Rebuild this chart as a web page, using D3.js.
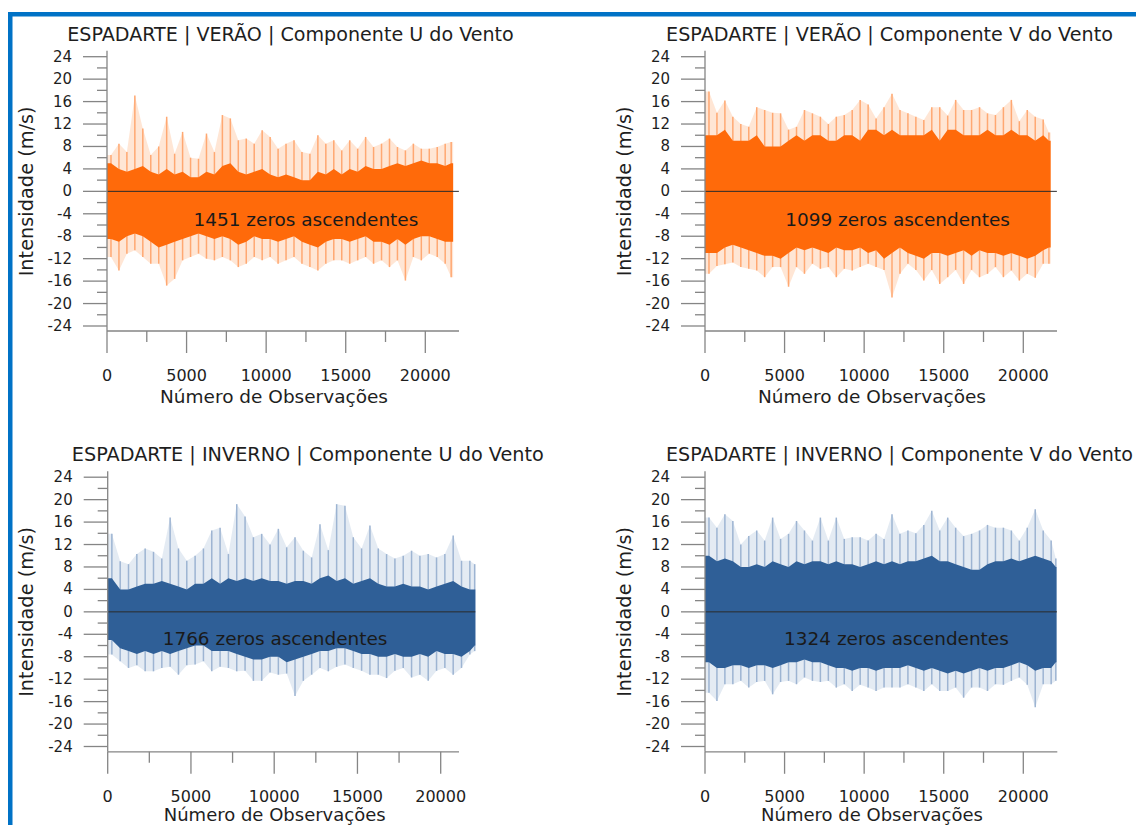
<!DOCTYPE html>
<html>
<head>
<meta charset="utf-8">
<script src="https://cdn.jsdelivr.net/npm/d3@7"></script>
<style>
  html, body { margin: 0; padding: 0; background: #ffffff; }
  svg { display: block; font-family: "DejaVu Sans", Verdana, sans-serif; }
</style>
</head>
<body>
<svg id="chart" width="1136" height="825"></svg>
<script>
// Wind components at Espadarte, summarised in blocks of 500 observations:
// hi / lo = extreme values in each block, top / bot = limits of the dense band.
const binSize = 500;

// VERÃO – componente U
const verUHi  = [6.5, 8.5, 7.0, 17.1, 11.2, 6.5, 8.0, 13.3, 6.7, 10.6,
                 6.0, 5.8, 10.3, 7.0, 13.6, 13.0, 9.1, 9.4, 8.5, 10.9,
                 9.7, 7.6, 8.5, 9.1, 7.0, 6.7, 10.0, 8.5, 9.1, 7.3,
                 9.1, 7.6, 9.7, 7.9, 8.5, 9.4, 7.9, 7.3, 8.5, 7.6,
                 7.6, 7.9, 8.5, 8.8];
const verUTop = [5.0, 4.0, 3.5, 4.0, 4.5, 3.5, 3.0, 4.0, 3.0, 3.5,
                 2.5, 2.5, 3.5, 3.0, 4.5, 5.0, 3.5, 3.0, 3.5, 4.0,
                 3.0, 2.5, 3.0, 2.5, 2.0, 2.0, 3.5, 3.0, 4.0, 3.0,
                 4.0, 3.5, 4.5, 4.0, 4.0, 4.5, 5.0, 4.5, 5.0, 5.5,
                 5.0, 5.0, 4.5, 5.0];
const verUBot = [-8.5, -9.0, -8.0, -7.5, -8.0, -9.0, -10.0, -9.5, -9.0, -8.5,
                 -8.0, -7.5, -8.0, -8.5, -8.0, -8.5, -9.5, -9.0, -8.0, -8.5,
                 -8.5, -9.0, -8.5, -8.0, -9.0, -9.5, -10.0, -9.0, -8.5, -8.5,
                 -9.0, -8.5, -8.0, -9.0, -9.0, -9.5, -8.5, -9.5, -8.5, -8.0,
                 -8.0, -8.5, -9.0, -9.0];
const verULo  = [-11.7, -14.1, -11.1, -10.5, -11.7, -12.9, -12.9, -16.8, -15.6, -12.3,
                 -11.7, -11.1, -12.0, -12.3, -11.7, -12.3, -13.5, -12.9, -11.7, -12.3,
                 -11.7, -12.9, -12.3, -11.7, -12.9, -13.5, -14.1, -12.9, -12.3, -12.3,
                 -12.9, -12.3, -11.7, -12.9, -12.3, -13.5, -12.3, -15.9, -11.7, -12.3,
                 -11.1, -11.7, -12.9, -15.3];

// VERÃO – componente V
const verVHi  = [17.8, 14.0, 16.2, 13.3, 12.0, 11.5, 15.0, 14.5, 14.0, 13.9,
                 11.0, 11.5, 14.5, 13.9, 13.3, 12.0, 13.3, 13.6, 14.5, 16.3,
                 15.5, 13.0, 15.0, 17.4, 14.5, 13.9, 13.3, 12.7, 15.0, 15.0,
                 13.5, 16.3, 14.5, 14.5, 15.0, 13.9, 13.6, 15.0, 16.3, 12.5,
                 14.5, 13.3, 12.8, 10.5];
const verVTop = [10, 10, 11, 9, 9, 9, 10, 8, 8, 8,
                 9, 10, 9, 10, 10, 9, 9, 10, 10, 9,
                 11, 11, 10, 11, 10, 10, 10, 10, 11, 9,
                 11, 11, 10, 10, 10, 11, 10, 10, 11, 10,
                 10, 9, 10, 9];
const verVBot = [-11, -11, -10, -9.5, -10, -10.5, -11, -11.5, -11.5, -12,
                 -11, -10, -10.5, -10, -10.5, -11, -10, -10.5, -10.5, -10,
                 -11, -10.5, -12, -11, -10, -11, -11.5, -12, -11, -11,
                 -11.5, -11, -10.5, -11.5, -10.5, -11, -11, -11.5, -11, -11.5,
                 -12, -11.5, -10.5, -10];
const verVLo  = [-14.7, -13.3, -13.0, -12.7, -13.5, -13.8, -14.1, -15.3, -13.5, -13.5,
                 -17.0, -13.5, -14.7, -12.9, -13.8, -13.5, -15.3, -13.8, -14.1, -13.5,
                 -12.9, -13.5, -14.0, -18.9, -14.7, -12.9, -14.0, -15.9, -14.0, -16.5,
                 -15.3, -14.0, -16.5, -14.0, -15.3, -14.7, -13.5, -15.3, -14.1, -15.9,
                 -14.7, -15.4, -12.9, -12.9];

// INVERNO – componente U
const invUHi  = [13.9, 9.0, 8.5, 10.3, 11.3, 10.7, 9.5, 16.8, 11.3, 9.1,
                 10.0, 11.3, 14.5, 15.0, 10.3, 19.2, 17.0, 13.3, 13.9, 12.0,
                 14.8, 11.5, 13.3, 10.9, 9.7, 15.6, 11.0, 19.2, 18.9, 13.3,
                 11.3, 15.4, 11.3, 10.3, 9.5, 10.0, 10.9, 10.0, 10.3, 9.7,
                 10.3, 13.6, 9.1, 9.1, 8.5];
const invUTop = [6, 4, 4, 4.5, 5, 5, 5.5, 5, 4.5, 4,
                 5, 5, 6, 5, 6, 5.5, 6, 5.5, 6, 5.5,
                 5.5, 5, 5.5, 5.5, 5, 6, 6.5, 5.5, 6, 5,
                 5.5, 6, 5, 4.5, 4.5, 5, 4.5, 4.5, 4, 4.5,
                 5, 5.5, 4.5, 4, 4];
const invUBot = [-5, -6.5, -7, -7.5, -7, -7.5, -7, -7.5, -7, -6.5,
                 -6, -6, -7, -7, -7, -7.5, -8, -8.5, -8.5, -8,
                 -8, -9, -8.5, -8, -7.5, -7, -7, -6.5, -6.5, -7,
                 -7.5, -7.5, -8, -8, -7.5, -8, -8, -7.5, -8, -7,
                 -7.5, -7.5, -8, -7, -6];
const invULo  = [-7.6, -8.8, -10.0, -9.5, -10.6, -10.6, -10.0, -9.8, -11.2, -9.5,
                 -9.4, -8.8, -10.6, -9.8, -10.0, -10.6, -10.5, -12.3, -12.3, -10.8,
                 -11.2, -11.0, -15.0, -12.3, -11.2, -10.0, -10.6, -9.8, -9.4, -10.0,
                 -10.5, -11.2, -11.2, -11.8, -10.5, -10.0, -11.7, -11.2, -12.3, -10.5,
                 -10.0, -11.2, -10.0, -7.6, -7.0];

// INVERNO – componente V
const invVHi  = [16.8, 15.0, 17.4, 16.2, 12.0, 13.5, 14.5, 12.7, 16.8, 13.0,
                 13.9, 16.2, 14.5, 12.7, 16.8, 12.7, 16.8, 13.0, 13.3, 13.3,
                 12.7, 13.9, 13.0, 17.4, 13.9, 14.5, 14.0, 15.5, 18.0, 14.5,
                 16.8, 15.0, 13.5, 13.9, 14.5, 15.5, 15.0, 15.0, 14.5, 12.7,
                 15.0, 18.3, 14.5, 12.7, 9.5];
const invVTop = [10, 9, 9.5, 9, 8, 8, 8.5, 8, 9, 8.5,
                 8, 9, 8.5, 9, 9, 8.5, 9, 8.5, 8.5, 8,
                 8.5, 9, 8.5, 9, 8.5, 9, 9, 9.5, 10, 9,
                 9, 8.5, 8, 7.5, 7.5, 8.5, 9, 9, 9.5, 9,
                 9.5, 10, 9.5, 9, 8];
const invVBot = [-9, -10, -10, -9.5, -9.5, -10, -9.5, -9.5, -10, -9.5,
                 -9, -9, -8.5, -9, -9, -9.5, -10, -10, -10.5, -10,
                 -10, -10.5, -10, -10, -10, -9.5, -10, -10.5, -10, -10.5,
                 -11, -10.5, -11, -10.5, -10, -10.5, -10, -10, -9.5, -9,
                 -9.5, -10.5, -10, -10, -9];
const invVLo  = [-14.4, -15.9, -12.9, -12.9, -12.3, -13.5, -12.5, -12.3, -14.7, -12.5,
                 -12.3, -12.9, -11.7, -12.3, -12.5, -12.3, -13.5, -12.9, -14.1, -13.0,
                 -13.5, -14.1, -13.5, -13.5, -13.5, -12.9, -13.5, -14.1, -12.9, -14.1,
                 -14.1, -13.5, -15.3, -13.5, -13.5, -14.1, -12.9, -13.0, -12.3, -11.7,
                 -13.0, -17.0, -12.9, -12.9, -12.3];

// Series lengths (number of observations) and ascending zero crossings
const seriesLength = [21750, 21720, 22080, 22085];
const zeroCrossings = [1451, 1099, 1766, 1324];
const titles = [
  "ESPADARTE | VERÃO | Componente U do Vento",
  "ESPADARTE | VERÃO | Componente V do Vento",
  "ESPADARTE | INVERNO | Componente U do Vento",
  "ESPADARTE | INVERNO | Componente V do Vento"
];

// Axis ticks
const yTickValues = d3.range(-24, 25, 4);
const yMinorValues = d3.range(-22, 23, 4);
const xTickValues = [0, 5000, 10000, 15000, 20000];
const xMinorValues = [2500, 7500, 12500, 17500];

const orange = { core: "#ff6a0a", spike: "#ffa872", haze: "#ffc7a2" };
const blue = { core: "#2f5f97", spike: "#9db4d2", haze: "#c4d2e4" };

// Panel layout
const panels = [
  { hi: verUHi, top: verUTop, bot: verUBot, lo: verULo, k: 0, pal: orange,
    x0: 107, x20k: 425.3, axisEnd: 459, zeroEnd: 22110,
    yTop: 56.7, yBot: 326, axisY: 331, titleX: 290.5, titleY: 40.7, titleW: 447,
    noteN: 12500, noteV: -5.0 },
  { hi: verVHi, top: verVTop, bot: verVBot, lo: verVLo, k: 1, pal: orange,
    x0: 705, x20k: 1023.3, axisEnd: 1057, zeroEnd: 22110,
    yTop: 56.7, yBot: 326, axisY: 331, titleX: 889.5, titleY: 40.7, titleW: 447,
    noteN: 12100, noteV: -5.0 },
  { hi: invUHi, top: invUTop, bot: invUBot, lo: invULo, k: 2, pal: blue,
    x0: 107.7, x20k: 440.7, axisEnd: 459, zeroEnd: 22080,
    yTop: 477.2, yBot: 746.5, axisY: 751.8, titleX: 307.8, titleY: 461.2, titleW: 472,
    noteN: 10050, noteV: -4.7 },
  { hi: invVHi, top: invVTop, bot: invVBot, lo: invVLo, k: 3, pal: blue,
    x0: 705, x20k: 1023.3, axisEnd: 1057.3, zeroEnd: 22110,
    yTop: 477.2, yBot: 746.5, axisY: 751.8, titleX: 899.5, titleY: 461.2, titleW: 467,
    noteN: 12030, noteV: -4.7 }
];

const svg = d3.select("#chart");
const axisColor = "#858585";
const textColor = "#1e1e1e";

// Border frame
svg.append("rect").attr("x", 8).attr("y", 12).attr("width", 1128).attr("height", 4.5).attr("fill", "#0072c6");
svg.append("rect").attr("x", 8).attr("y", 12).attr("width", 4.5).attr("height", 813).attr("fill", "#0072c6");

// Scale a text element so that its rendered width equals the given width
function fitWidth(sel, width) {
  sel.style("font-size", "100px");
  const w = sel.node().getComputedTextLength();
  sel.style("font-size", (100 * width / w).toFixed(2) + "px");
  return sel;
}

panels.forEach(p => {
  const len = seriesLength[p.k];
  const x = d3.scaleLinear().domain([0, 20000]).range([p.x0, p.x20k]);
  const y = d3.scaleLinear().domain([-24, 24]).range([p.yBot, p.yTop]);
  const g = svg.append("g");

  // block centre positions
  const bins = p.hi.map((h, i) => {
    const s = i * binSize, e = Math.min(s + binSize, len);
    return { s, e, n: (s + e) / 2, hi: h, top: p.top[i], bot: p.bot[i], lo: p.lo[i] };
  });
  const first = bins[0], last = bins[bins.length - 1];
  const path = [{ ...first, n: 0 }, ...bins, { ...last, n: len }];

  // faint envelope between the block extremes
  g.append("path")
    .attr("d", d3.area().x(d => x(d.n)).y0(d => y(d.lo)).y1(d => y(d.hi))(path))
    .attr("fill", p.pal.haze).attr("opacity", 0.45);

  // extreme spikes of each block
  g.selectAll("line.spike").data(bins).join("line")
    .attr("class", "spike")
    .attr("x1", d => x(d.n)).attr("x2", d => x(d.n))
    .attr("y1", d => y(d.lo)).attr("y2", d => y(d.hi))
    .attr("stroke", p.pal.spike).attr("stroke-width", 1.5);

  // dense band
  g.append("path")
    .attr("d", d3.area().x(d => x(d.n)).y0(d => y(d.bot)).y1(d => y(d.top))(path))
    .attr("fill", p.pal.core);

  // zero line
  g.append("line")
    .attr("x1", x(0)).attr("x2", x(p.zeroEnd))
    .attr("y1", y(0)).attr("y2", y(0))
    .attr("stroke", "#2b2b2b").attr("stroke-width", 1);

  // y axis
  g.append("line").attr("x1", p.x0).attr("x2", p.x0)
    .attr("y1", p.yTop - 6).attr("y2", p.axisY)
    .attr("stroke", axisColor).attr("stroke-width", 1.3);
  g.selectAll("line.ymaj").data(yTickValues).join("line")
    .attr("class", "ymaj")
    .attr("x1", p.x0 - 24).attr("x2", p.x0)
    .attr("y1", d => y(d)).attr("y2", d => y(d))
    .attr("stroke", axisColor).attr("stroke-width", 1.3);
  g.selectAll("line.ymin").data(yMinorValues).join("line")
    .attr("class", "ymin")
    .attr("x1", p.x0 - 10).attr("x2", p.x0)
    .attr("y1", d => y(d)).attr("y2", d => y(d))
    .attr("stroke", axisColor).attr("stroke-width", 1.3);
  g.selectAll("text.ylab").data(yTickValues).join("text")
    .attr("class", "ylab")
    .attr("x", p.x0 - 35).attr("y", d => y(d))
    .attr("text-anchor", "end").attr("dominant-baseline", "central")
    .attr("fill", textColor).style("font-size", "15px")
    .text(d => d);

  // x axis
  g.append("line").attr("x1", p.x0).attr("x2", p.axisEnd)
    .attr("y1", p.axisY).attr("y2", p.axisY)
    .attr("stroke", axisColor).attr("stroke-width", 1.3);
  g.selectAll("line.xmaj").data(xTickValues).join("line")
    .attr("class", "xmaj")
    .attr("x1", d => x(d)).attr("x2", d => x(d))
    .attr("y1", p.axisY).attr("y2", p.axisY + 22)
    .attr("stroke", axisColor).attr("stroke-width", 1.3);
  g.selectAll("line.xmin").data(xMinorValues).join("line")
    .attr("class", "xmin")
    .attr("x1", d => x(d)).attr("x2", d => x(d))
    .attr("y1", p.axisY).attr("y2", p.axisY + 11)
    .attr("stroke", axisColor).attr("stroke-width", 1.3);
  g.selectAll("text.xlab").data(xTickValues).join("text")
    .attr("class", "xlab")
    .attr("x", d => x(d)).attr("y", p.axisY + 50)
    .attr("text-anchor", "middle")
    .attr("fill", textColor).style("font-size", "16px")
    .text(d => d);

  // titles
  fitWidth(g.append("text")
    .attr("x", p.titleX).attr("y", p.titleY)
    .attr("text-anchor", "middle").attr("fill", textColor)
    .text(titles[p.k]), p.titleW);

  const bottomRoom = p.axisY + 72 > 821;
  fitWidth(g.append("text")
    .attr("x", p.x0 + 167).attr("y", bottomRoom ? 821 : p.axisY + 72)
    .attr("text-anchor", "middle").attr("fill", textColor)
    .text("Número de Observações"), bottomRoom ? 222 : 228);

  fitWidth(g.append("text")
    .attr("transform", `translate(${p.x0 - 81},${(p.yTop + p.yBot) / 2}) rotate(-90)`)
    .attr("text-anchor", "middle").attr("dominant-baseline", "central")
    .attr("fill", textColor)
    .text("Intensidade (m/s)"), 170);

  // zero-crossing note
  fitWidth(g.append("text")
    .attr("x", x(p.noteN)).attr("y", y(p.noteV))
    .attr("text-anchor", "middle").attr("dominant-baseline", "central")
    .attr("fill", "#1a1a1a")
    .text(`${zeroCrossings[p.k]} zeros ascendentes`), 225);
});
</script>
</body>
</html>
